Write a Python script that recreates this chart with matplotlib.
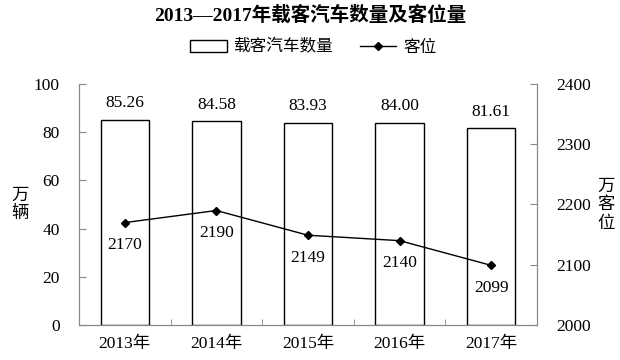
import numpy as np
import matplotlib
matplotlib.use("Agg")
import matplotlib.pyplot as plt
from matplotlib.lines import Line2D
from matplotlib.patches import Patch

plt.rcParams['font.family'] = ['Liberation Serif', 'Noto Sans CJK SC', 'DejaVu Sans']

# data
years = ['2013年', '2014年', '2015年', '2016年', '2017年']
vehicles = [85.26, 84.58, 83.93, 84.00, 81.61]   # 万辆
seats = [2170, 2190, 2149, 2140, 2099]           # 万客位

fig = plt.figure(figsize=(6.2, 3.6), dpi=100)
ax = fig.add_axes([0.1274, 0.0972, 0.7387, 0.6695])
ax2 = ax.twinx()

x = np.arange(len(years))
ax.bar(x, vehicles, width=0.53, color='white', edgecolor='black', linewidth=1.0, zorder=2)
for xi, v in zip(x, vehicles):
    ax.text(xi, v + 3.5, f'{v:.2f}', ha='center', va='bottom', fontsize=12.5)

ax.set_xlim(-0.5, len(years) - 0.5)
ax.set_ylim(0, 100)
ax.set_yticks(np.arange(0, 101, 20))
ax.set_xticks(x)
ax.set_xticklabels(years, fontsize=12.5)
ax.set_xticks(np.arange(0.5, len(years) - 0.5, 1), minor=True)
ax.tick_params(axis='x', which='major', length=0, pad=8)
ax.tick_params(axis='x', which='minor', direction='in', length=4, color='#888888')
ax.tick_params(axis='y', direction='in', length=5, color='#888888', labelsize=12.5, pad=14)

ax2.plot(x, seats, color='black', linewidth=1.0, marker='D', markersize=4.5, zorder=3)
for xi, s in zip(x, seats):
    ax2.text(xi, s - 24, str(s), ha='center', va='top', fontsize=12.5)
ax2.set_ylim(2000, 2400)
ax2.set_yticks(np.arange(2000, 2401, 100))
ax2.tick_params(axis='y', direction='in', length=5, color='#888888', labelsize=12.5, pad=14)

for a in (ax, ax2):
    a.spines['top'].set_visible(False)
    for s in ('left', 'right', 'bottom'):
        a.spines[s].set_color('#888888')

fig.text(0.032, 0.43, '万\n辆', ha='center', va='center', fontsize=12.5, linespacing=1.2)
fig.text(0.977, 0.43, '万\n客\n位', ha='center', va='center', fontsize=12.5, linespacing=1.2)

fig.suptitle('2013—2017年载客汽车数量及客位量', y=0.985, fontsize=14, fontweight='bold')

handles = [Patch(facecolor='white', edgecolor='black', linewidth=1.0),
           Line2D([0], [0], color='black', linewidth=1.0, marker='D', markersize=4.5)]
fig.legend(handles, ['载客汽车数量', '客位'], loc='center', bbox_to_anchor=(0.505, 0.868),
           ncol=2, frameon=False, fontsize=12, handlelength=2.2, handleheight=0.7,
           columnspacing=1.6, handletextpad=0.4)

fig.savefig('out.png', dpi=100)
